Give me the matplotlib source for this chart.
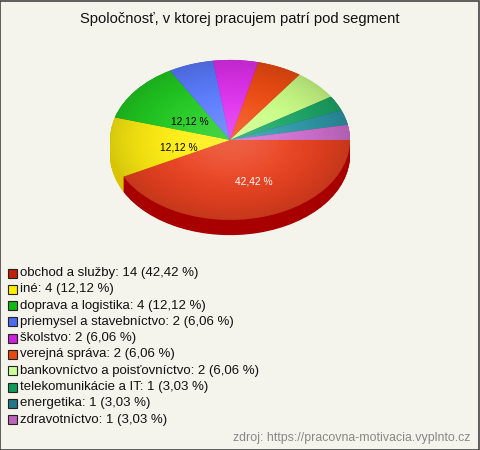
import matplotlib.pyplot as plt
import matplotlib.patches as mpatches
import numpy as np

plt.rcParams['font.family'] = ['Liberation Sans', 'DejaVu Sans']

# data
segments = ['obchod a služby', 'iné', 'doprava a logistika', 'priemysel a stavebníctvo',
            'školstvo', 'verejná správa', 'bankovníctvo a poisťovníctvo',
            'telekomunikácie a IT', 'energetika', 'zdravotníctvo']
counts = [14, 4, 4, 2, 2, 2, 2, 1, 1, 1]
top_colors = ['#ea4220', '#ffee11', '#22cc22', '#5a7cff', '#e030ee', '#f04c12',
              '#ccff88', '#1ea868', '#2e98a8', '#d070d0']
side_colors = ['#a80000', '#d8c400', '#14a014', '#3a58d0', '#b010c0', '#c03000',
               '#a8d860', '#107848', '#1a6e7c', '#a050a0']
legend_colors = ['#c22008', '#ffee00', '#10bb10', '#4a6cf0', '#cc20dd', '#e84a10',
                 '#ccff99', '#11995a', '#227788', '#bb66bb']

title = 'Spoločnosť, v ktorej pracujem patrí pod segment'
source = 'zdroj: https://pracovna-motivacia.vyplnto.cz'

total = sum(counts)
pcts = [c * 100.0 / total for c in counts]

def fmt(p):
    return ('%.2f' % p).replace('.', ',')

fig = plt.figure(figsize=(4.8, 4.5), dpi=100)
fig.patch.set_facecolor('#f4f3ec')
fig.patches.append(mpatches.Rectangle((0.001, 0.001), 0.997, 0.997, transform=fig.transFigure,
                                      fill=False, edgecolor='#444444', linewidth=1.2))

fig.text(0.5, 1 - 19 / 450, title, ha='center', va='center', fontsize=10.6, color='#111111')

# pie axes: center at (230,140) px, rx=120, ry=80
ax = fig.add_axes([0.2042, 0.449, 0.55, 0.4356])
ax.set_facecolor('none')
depth = 0.19
for k in np.linspace(depth, 0.0, 25):
    ax.pie(counts, colors=side_colors, startangle=0, counterclock=False,
           center=(0, -k), wedgeprops=dict(linewidth=0, antialiased=True))
wedges, _, autotexts = ax.pie(counts, colors=top_colors, startangle=0, counterclock=False,
                              autopct=lambda p: (fmt(p) + ' %') if p >= 10 else '',
                              pctdistance=0.45,
                              wedgeprops=dict(linewidth=0, antialiased=True),
                              textprops=dict(fontsize=7.4))
for t in autotexts[1:]:
    x, y = t.get_position()
    t.set_position((x + 0.02, y - 0.05))
autotexts[0].set_color('white')
autotexts[0].set_position((0.2, -0.52))

# soft shading on the top surface (smooth light centre, darker rim)
gx, gy = np.meshgrid(np.linspace(-1, 1, 300), np.linspace(-1, 1, 300))
r = np.hypot(gx, gy)
glow = np.zeros((300, 300, 4))
glow[..., :3] = 1.0
glow[..., 3] = 0.16 * np.exp(-(r / 0.45) ** 2)
rim = np.zeros((300, 300, 4))
rim[..., 3] = 0.16 * np.clip((r - 0.3) / 0.7, 0, 1) ** 2
clip = mpatches.Circle((0, 0), 1, transform=ax.transData)
for layer in (glow, rim):
    im = ax.imshow(layer, extent=(-1, 1, -1, 1), origin='lower', zorder=3,
                   interpolation='bilinear')
    im.set_clip_path(clip)
for t in autotexts:
    t.set_zorder(5)

ax.set_aspect('auto')
ax.set_xlim(-1.1, 1.1)
ax.set_ylim(-1.35, 1.1)
ax.axis('off')

# legend
y0 = 273
step = 16.3
for i, (name, c, p) in enumerate(zip(segments, counts, pcts)):
    yc = y0 + i * step
    fig.patches.append(mpatches.Rectangle((8 / 480, 1 - (yc + 4.5) / 450), 9 / 480, 9 / 450,
                                          transform=fig.transFigure, facecolor=legend_colors[i],
                                          edgecolor='#222222', linewidth=0.8))
    fig.text(20 / 480, 1 - yc / 450, '%s: %d (%s %%)' % (name, c, fmt(p)),
             ha='left', va='center', fontsize=9.5, color='#111111')

fig.text(470 / 480, 1 - 438 / 450, source, ha='right', va='center', fontsize=8.9, color='#888888')

fig.savefig('out.png', dpi=100, facecolor=fig.get_facecolor())
